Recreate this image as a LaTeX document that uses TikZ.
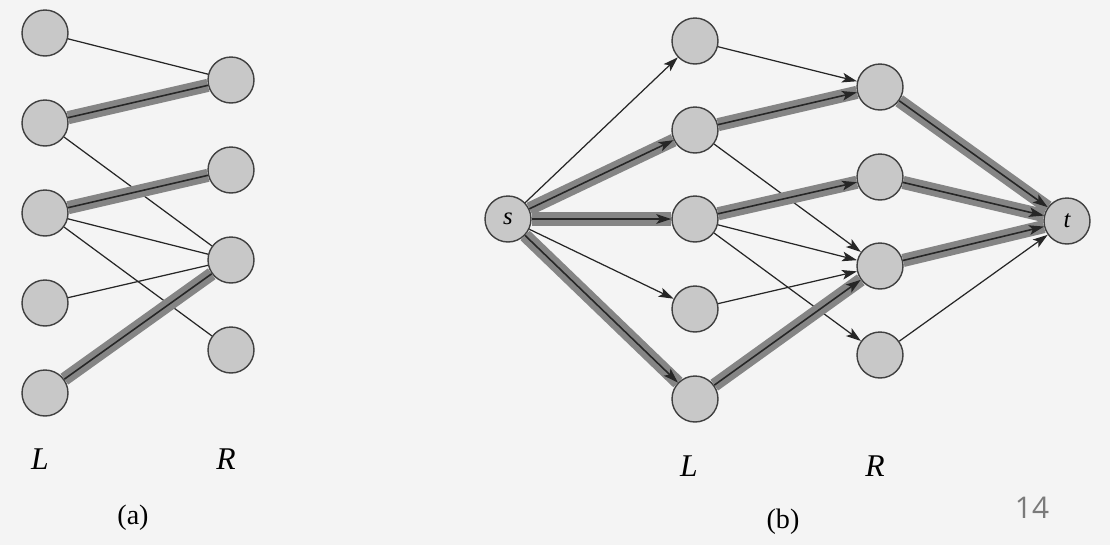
\documentclass[tikz,border=0pt]{standalone}
\usepackage{fontspec}
\setmainfont{Liberation Serif}
\newfontfamily\pagenumfont{Open Sans}
\usetikzlibrary{arrows.meta}
\definecolor{paper}{HTML}{F4F4F4}
\definecolor{vertexfill}{HTML}{C8C8C8}
\definecolor{vertexrim}{HTML}{404040}
\definecolor{ink}{HTML}{262626}
\definecolor{flowband}{HTML}{858585}
\definecolor{pagegray}{HTML}{7A7A7A}
\tikzset{vertex/.style={circle,draw=vertexrim,fill=vertexfill,line width=0.8pt,minimum size=0.92cm,inner sep=0pt,font=\itshape\fontsize{14}{14}\selectfont},
plain/.style={ink,line width=0.7pt},arc/.style={plain,-{Stealth[length=8.5pt,width=5.5pt,inset=2pt]}},
band/.style={flowband,line width=7.5pt},side/.style={font=\itshape\fontsize{18}{18}\selectfont},tag/.style={font=\fontsize{16}{16}\selectfont}}
\newcommand{\matched}[2]{\draw[band] (#1)--(#2);\draw[plain,line width=0.9pt] (#1)--(#2);}
\newcommand{\flow}[2]{\draw[band] (#1)--(#2);\draw[arc,line width=0.9pt] (#1)--(#2);}

\begin{document}
\begin{tikzpicture}[x=0.02cm,y=-0.02cm]
\fill[paper] (0,0) rectangle (1110,545);\useasboundingbox (0,0) rectangle (1110,545);
\foreach \y [count=\i] in {33,123,213,303,393} \node[vertex] (aL\i) at (45,\y) {};
\foreach \y [count=\i] in {80,170,260,350} \node[vertex] (aR\i) at (231,\y) {};
\foreach \p/\q in {aL1/aR1,aL2/aR3,aL3/aR3,aL3/aR4,aL4/aR3} \draw[plain] (\p)--(\q);
\matched{aL2}{aR1}\matched{aL3}{aR2}\matched{aL5}{aR3}
\node[side] (aLname) at (40,459) {L};\node[side] (aRname) at (226,459) {R};\node[tag] (acap) at (133,518) {(a)};
\node[vertex] (s) at (508,219) {s};\node[vertex] (t) at (1067,221) {t};
\foreach \y [count=\i] in {41,130,219,309,399} \node[vertex] (bL\i) at (695,\y) {};
\foreach \y [count=\i] in {87,177,266,355} \node[vertex] (bR\i) at (880,\y) {};
\foreach \p/\q in {s/bL1,s/bL4,bL1/bR1,bL2/bR3,bL3/bR3,bL3/bR4,bL4/bR3,bR4/t} \draw[arc] (\p)--(\q);
\flow{s}{bL2}\flow{s}{bL3}\flow{s}{bL5}\flow{bL2}{bR1}\flow{bL3}{bR2}\flow{bL5}{bR3}\flow{bR1}{t}\flow{bR2}{t}\flow{bR3}{t}
\node[side] (bLname) at (689,466) {L};\node[side] (bRname) at (875,466) {R};\node[tag] (bcap) at (783,522) {(b)};
\node[pagegray,font=\pagenumfont\fontsize{17}{17}\selectfont] (pagenum) at (1032,508) {14};
\end{tikzpicture}
\end{document}
